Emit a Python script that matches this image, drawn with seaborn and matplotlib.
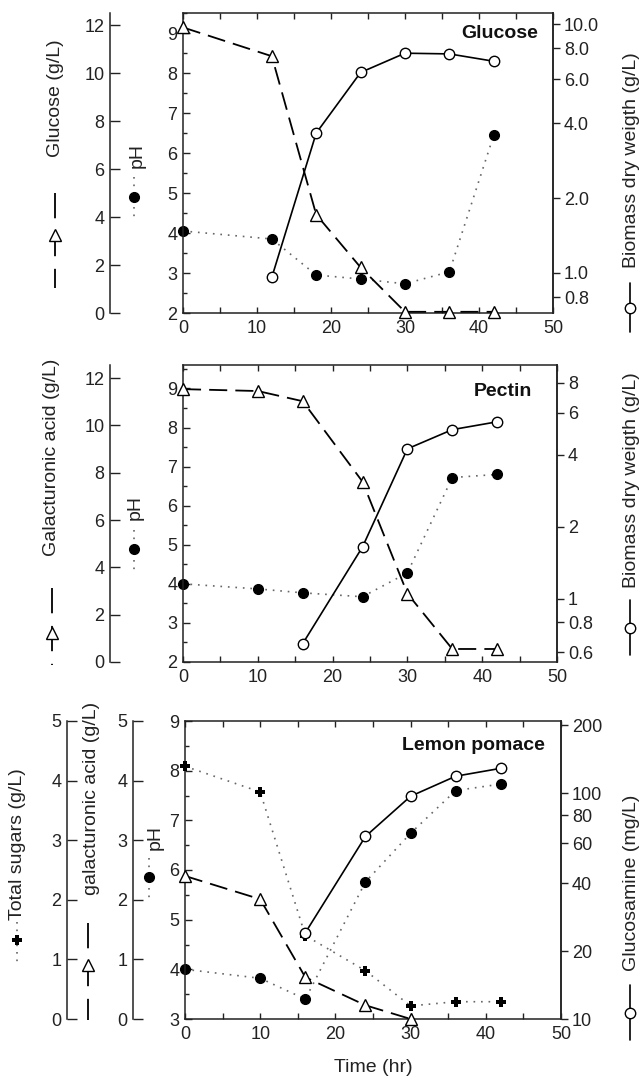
import numpy as np
import pandas as pd
import seaborn as sns
import matplotlib
matplotlib.use("Agg")
import matplotlib.pyplot as plt
from matplotlib.lines import Line2D
from matplotlib.ticker import MultipleLocator, NullLocator, FixedLocator

# ---------------- data ----------------
# Glucose panel
time_glc = [0, 12, 18, 24, 30, 36, 42]
glucose_glc = [11.9, 10.7, 4.1, 1.9, 0.05, 0.05, 0.05]
ph_glc = [4.05, 3.85, 2.95, 2.85, 2.73, 3.03, 6.45]
time_glc_bio = [12, 18, 24, 30, 36, 42]
biomass_glc = [0.96, 3.65, 6.4, 7.65, 7.6, 7.1]

# Pectin panel
time_pec = [0, 10, 16, 24, 30, 36, 42]
galacturonic_pec = [11.53, 11.45, 11.02, 7.62, 2.89, 0.55, 0.55]
ph_pec = [4.0, 3.87, 3.77, 3.67, 4.28, 6.72, 6.8]
time_pec_bio = [16, 24, 30, 36, 42]
biomass_pec = [0.65, 1.65, 4.24, 5.1, 5.5]

# Lemon pomace panel
time_lem = [0, 10, 16, 24, 30, 36, 42]
sugars_lem = [4.24, 3.81, 1.4, 0.81, 0.22, 0.29, 0.29]
ph_lem = [4.0, 3.82, 3.40, 5.76, 6.74, 7.6, 7.73]
time_lem_ga = [0, 10, 16, 24, 30]
galacturonic_lem = [2.40, 2.01, 0.70, 0.23, 0.0]
time_lem_gn = [16, 24, 30, 36, 42]
glucosamine_lem = [24.1, 64.4, 97, 119, 129]

bio_ticks_glc = [0.8, 1.0, 2.0, 4.0, 6.0, 8.0, 10.0]
bio_labels_glc = ["0.8", "1.0", "2.0", "4.0", "6.0", "8.0", "10.0"]
bio_ticks_pec = [0.6, 0.8, 1, 2, 4, 6, 8]
bio_labels_pec = ["0.6", "0.8", "1", "2", "4", "6", "8"]
gn_ticks = [10, 20, 40, 60, 80, 100, 200]
gn_labels = ["10", "20", "40", "60", "80", "100", "200"]

# ---------------- style ----------------
sns.set_theme(style="ticks")
plt.rcParams["font.family"] = ["Liberation Sans", "DejaVu Sans"]
plt.rcParams["axes.edgecolor"] = "#222222"
plt.rcParams["axes.linewidth"] = 1.1
plt.rcParams["xtick.color"] = "#222222"
plt.rcParams["ytick.color"] = "#222222"

W, H = 641, 1086
fig = plt.figure(figsize=(W / 100, H / 100), dpi=100)

TICK_FS = 13
LAB_FS = 14
DASH = (0, (10, 4.5))
SYM_DASH = (0, (14, 7))
DOT = (0, (1, 3.5))
DOT_COLOR = "#666666"


def fx(x):
    return x / W


def fy(y):
    return 1 - y / H


def add_axes_px(left, right, top, bottom):
    return fig.add_axes([fx(left), fy(bottom), (right - left) / W, (bottom - top) / H])


def draw(ax, x, y, ls, marker, mfc, ms, color="black", lw=1.2, mew=1.0):
    sns.lineplot(x=x, y=y, ax=ax, linestyle=ls, marker=marker,
                 markerfacecolor=mfc, markeredgecolor="black",
                 markersize=ms, markeredgewidth=mew, color=color,
                 linewidth=lw, errorbar=None, sort=False, clip_on=False)
    ax.set_xlabel("")
    ax.set_ylabel("")


def style_main(ax, ylim):
    ax.set_xlim(0, 50)
    ax.set_ylim(*ylim)
    ax.xaxis.set_major_locator(MultipleLocator(10))
    ax.xaxis.set_minor_locator(MultipleLocator(5))
    ax.yaxis.set_major_locator(MultipleLocator(1))
    ax.yaxis.set_minor_locator(MultipleLocator(0.5))
    ax.tick_params(axis="x", which="both", direction="in", top=True, bottom=True,
                   length=4, width=1, labelsize=TICK_FS, pad=5)
    ax.tick_params(axis="y", which="major", direction="in", left=True, right=False,
                   length=5, width=1, labelsize=TICK_FS, pad=4)
    ax.tick_params(axis="y", which="minor", direction="in", left=True, right=False,
                   length=3, width=1)
    for s in ["top", "bottom", "left", "right"]:
        ax.spines[s].set_visible(True)


def offset_left(ax, frac, ylim, step):
    a = ax.twinx()
    a.set_ylim(*ylim)
    a.yaxis.tick_left()
    a.spines["left"].set_position(("axes", frac))
    a.spines["left"].set_visible(True)
    for s in ["right", "top", "bottom"]:
        a.spines[s].set_visible(False)
    a.yaxis.set_major_locator(MultipleLocator(step))
    a.yaxis.set_minor_locator(NullLocator())
    a.tick_params(axis="y", direction="in", length=7, width=1, labelsize=TICK_FS,
                  left=True, right=False, labelleft=True, labelright=False, pad=4)
    return a


def log_right(ax, ylim, ticks, labels):
    a = ax.twinx()
    a.set_yscale("log")
    a.set_ylim(*ylim)
    a.yaxis.set_major_locator(FixedLocator(ticks))
    a.set_yticklabels(labels)
    a.yaxis.set_minor_locator(NullLocator())
    a.tick_params(axis="y", which="both", direction="out", length=5, width=1,
                  labelsize=TICK_FS, pad=3)
    for s in ["left", "top", "bottom"]:
        a.spines[s].set_visible(False)
    return a


def vsym(x, y0, y1, ym, ls, marker, mfc, ms, color="black", mew=1.0, lw=1.2):
    ln = Line2D([fx(x)] * 3, [fy(y0), fy(ym), fy(y1)], transform=fig.transFigure,
                linestyle=ls, color=color, linewidth=lw, marker=marker,
                markerfacecolor=mfc, markeredgecolor="black", markersize=ms,
                markeredgewidth=mew, markevery=[1])
    fig.add_artist(ln)


def vtext(x, y, s, size=LAB_FS):
    fig.text(fx(x), fy(y), s, rotation=90, ha="center", va="center", fontsize=size,
             color="#222222")


# ---------------- Panel 1: Glucose ----------------
ax1 = add_axes_px(183, 553, 13, 313)
ax1g = offset_left(ax1, (110 - 183) / 370, (0, 12.5), 2)
ax1b = log_right(ax1, (0.69, 11.1), bio_ticks_glc, bio_labels_glc)
draw(ax1, time_glc, ph_glc, DOT, "o", "black", 7, color=DOT_COLOR, lw=1.2)
draw(ax1g, time_glc, glucose_glc, DASH, "^", "white", 8, lw=1.3)
draw(ax1b, time_glc_bio, biomass_glc, "-", "o", "white", 7.5, lw=1.2)
style_main(ax1, (2, 9.5))
ax1b.set_ylim(0.69, 11.1)
ax1g.set_ylim(0, 12.5)
fig.text(fx(538), fy(34), "Glucose", ha="right", va="center", fontsize=LAB_FS,
         fontweight="bold", color="#111111")

vtext(55, 98, "Glucose (g/L)")
vsym(55, 193, 288, 235, SYM_DASH, "^", "white", 8, lw=1.3)
vtext(137, 155, "pH")
vsym(134, 177, 222, 197, DOT, "o", "black", 7, color=DOT_COLOR)
vtext(632, 160, "Biomass dry weigth (g/L)")
vsym(630, 283, 332, 308, "-", "o", "white", 7.5)

# ---------------- Panel 2: Pectin ----------------
ax2 = add_axes_px(183, 557, 365, 662)
ax2g = offset_left(ax2, (110 - 183) / 374, (0, 12.55), 2)
ax2b = log_right(ax2, (0.545, 9.5), bio_ticks_pec, bio_labels_pec)
draw(ax2, time_pec, ph_pec, DOT, "o", "black", 7, color=DOT_COLOR, lw=1.2)
draw(ax2g, time_pec, galacturonic_pec, DASH, "^", "white", 8, lw=1.3)
draw(ax2b, time_pec_bio, biomass_pec, "-", "o", "white", 7.5, lw=1.2)
style_main(ax2, (2, 9.6))
ax2b.set_ylim(0.545, 9.5)
ax2g.set_ylim(0, 12.55)
fig.text(fx(532), fy(392), "Pectin", ha="right", va="center", fontsize=LAB_FS,
         fontweight="bold", color="#111111")

vtext(52, 457, "Galacturonic acid (g/L)")
vsym(52, 588, 665, 633, SYM_DASH, "^", "white", 8, lw=1.3)
vtext(135, 507, "pH")
vsym(134, 530, 573, 549, DOT, "o", "black", 7, color=DOT_COLOR)
vtext(632, 480, "Biomass dry weigth (g/L)")
vsym(630, 600, 655, 628, "-", "o", "white", 7.5)

# ---------------- Panel 3: Lemon pomace ----------------
ax3 = add_axes_px(185, 561, 721, 1019)
ax3s = offset_left(ax3, (67 - 185) / 376, (0, 5), 1)
ax3g = offset_left(ax3, (133 - 185) / 376, (0, 5), 1)
ax3n = log_right(ax3, (10, 209), gn_ticks, gn_labels)
draw(ax3, time_lem, ph_lem, DOT, "o", "black", 7, color=DOT_COLOR, lw=1.2)
draw(ax3s, time_lem, sugars_lem, DOT, "P", "black", 7, color=DOT_COLOR, lw=1.2, mew=0.0)
draw(ax3g, time_lem_ga, galacturonic_lem, DASH, "^", "white", 8, lw=1.3)
draw(ax3n, time_lem_gn, glucosamine_lem, "-", "o", "white", 7.5, lw=1.2)
style_main(ax3, (3, 9))
ax3n.set_ylim(10, 209)
ax3s.set_ylim(0, 5)
ax3g.set_ylim(0, 5)
fig.text(fx(545), fy(745), "Lemon pomace", ha="right", va="center", fontsize=LAB_FS,
         fontweight="bold", color="#111111")

vtext(18, 844, "Total sugars (g/L)")
vsym(17, 922, 962, 940, DOT, "P", "black", 7, color=DOT_COLOR, mew=0.0)
vtext(92, 798, "galacturonic acid (g/L)")
vsym(88, 923, 1020, 965, SYM_DASH, "^", "white", 8, lw=1.3)
vtext(155, 837, "pH")
vsym(149, 858, 900, 877, DOT, "o", "black", 7, color=DOT_COLOR)
vtext(632, 883, "Glucosamine (mg/L)")
vsym(630, 985, 1040, 1013, "-", "o", "white", 7.5)

fig.text(fx(373), fy(1068), "Time (hr)", ha="center", va="center", fontsize=LAB_FS,
         color="#222222")

fig.savefig("out.png", dpi=100)
